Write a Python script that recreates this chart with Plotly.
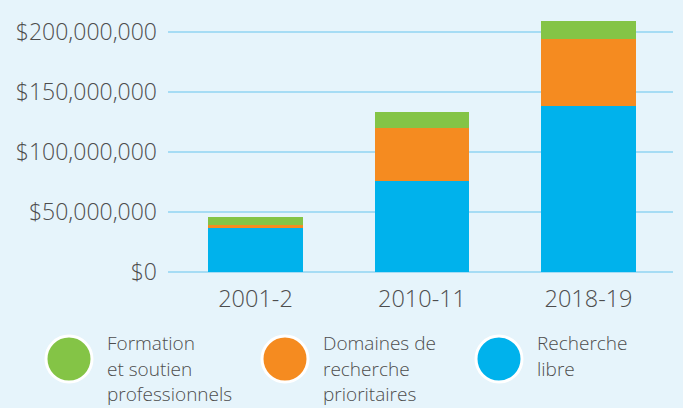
import plotly.graph_objects as go

categories = ["2001-2", "2010-11", "2018-19"]
recherche_libre = [36.7e6, 75.8e6, 138.3e6]
domaines = [2.2e6, 44.5e6, 55.9e6]
formation = [6.9e6, 13.0e6, 15.0e6]
tick_vals = [0, 50e6, 100e6, 150e6, 200e6]
tick_text = ["$0", "$50,000,000", "$100,000,000", "$150,000,000", "$200,000,000"]
legend_names = [["Formation", "et soutien", "professionnels"],
                ["Domaines de", "recherche", "prioritaires"],
                ["Recherche", "libre"]]

GREEN = "#84c446"
ORANGE = "#f58b20"
BLUE = "#00b2ec"
BG = "#e6f4fb"
TXT = "#4d4d4d"
FONT = "Open Sans"

W, H = 683, 408
# main plot area in pixels: 0 -> y=272, 200M -> y=32 (1.2 px per million)
PTOP, PBOT = 15, 280
fig = go.Figure()
for vals, col in [(recherche_libre, BLUE), (domaines, ORANGE), (formation, GREEN)]:
    fig.add_trace(go.Bar(x=categories, y=vals, marker=dict(color=col, line=dict(width=0)),
                         width=0.57, showlegend=False, hoverinfo="skip"))

# legend drawn on a pixel-space helper axis
leg_x = [69, 285, 499]
leg_cols = [GREEN, ORANGE, BLUE]
fig.add_trace(go.Scatter(x=leg_x, y=[359, 359, 359], xaxis="x2", yaxis="y2", mode="markers",
                         marker=dict(size=46, color=leg_cols, line=dict(color="white", width=3)),
                         showlegend=False, hoverinfo="skip", cliponaxis=False))
annotations = []
for lx, lines in zip(leg_x, legend_names):
    for i, t in enumerate(lines):
        annotations.append(dict(x=lx + 36, y=343 + 25.5 * i, xref="x2", yref="y2", text=t,
                                showarrow=False, xanchor="left", yanchor="middle",
                                font=dict(family=FONT, size=19, color=TXT, weight=300)))

fig.update_layout(
    width=W, height=H, margin=dict(l=0, r=0, t=0, b=0, autoexpand=False),
    paper_bgcolor=BG, plot_bgcolor="rgba(0,0,0,0)", barmode="stack",
    annotations=annotations,
    xaxis=dict(type="category", domain=[168 / W, 673 / W], range=[-0.5255, 2.5075],
               showgrid=False, zeroline=False, showline=False, ticks="",
               ticklabelstandoff=2, automargin=False,
               tickfont=dict(family=FONT, size=23.5, color=TXT, weight=300)),
    yaxis=dict(domain=[1 - PBOT / H, 1 - PTOP / H],
               range=[-(PBOT - 272) / 1.2 * 1e6, (272 - PTOP) / 1.2 * 1e6],
               tickvals=tick_vals, ticktext=tick_text, showgrid=True,
               gridcolor="#a6dcf4", gridwidth=2, zeroline=False, showline=False,
               ticklabelstandoff=10, automargin=False,
               tickfont=dict(family=FONT, size=23, color=TXT, weight=300)),
    xaxis2=dict(domain=[0, 1], range=[0, W], visible=False, anchor="y2"),
    yaxis2=dict(domain=[0, 1], range=[H, 0], visible=False, anchor="x2"),
    bargap=0.43,
)
fig.write_html("out.html")
